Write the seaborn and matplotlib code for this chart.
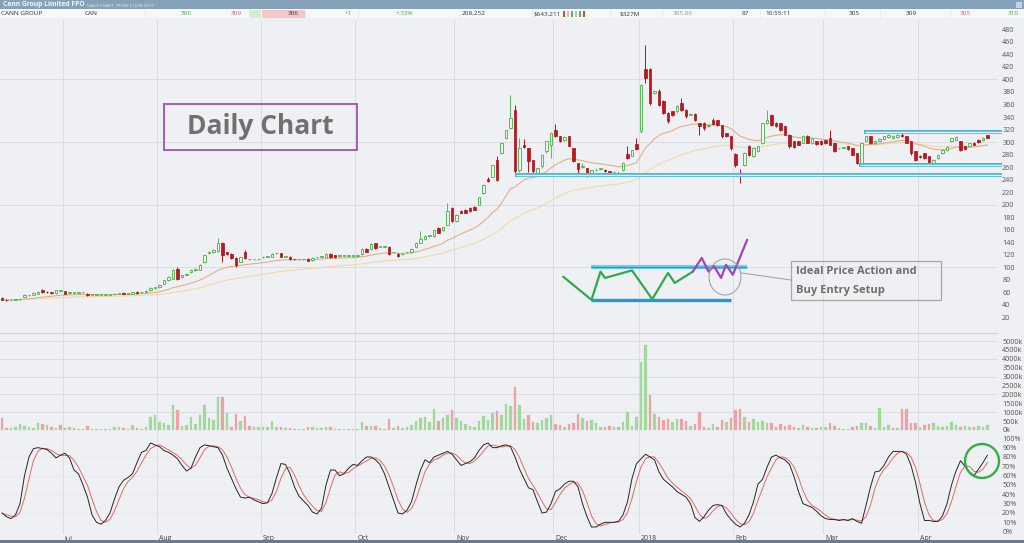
import numpy as np
import pandas as pd
import matplotlib
matplotlib.use("Agg")
import matplotlib.pyplot as plt
from matplotlib.patches import Rectangle, Ellipse
import seaborn as sns

# ---------------- data ----------------
OPEN = [51,48,47,48,49,53,55,56,58,63,
        61,60,59,62,61.5,59,59,59,60,58,
        56,56,56,56,56,57,58,59,58,58,
        61,60,61,63,67,68,74,79,82,97,
        84,88,92,95,96,108,122,124,126,139,
        124,121,115,109,125,113,113,113,116,117,
        117,122,122,117,117,113,112.5,113,114,111,
        116,117,117,121,119,118,118,118,118,118,
        121,129,129,138,133,133,133,124,121,121,
        124,124,132,139,145,150,150,163,159,168,
        195,174,190,192,195,197,200,218,241,245,
        271,282,306,322,351,255,295,290,271,250,
        261,285,295,319,309,303,309,290,266,260,
        258,249,255,257,256,253,252,251,255,281,
        278,297,317,416,416,378,382,366,347,349,
        349,363,352,344,345,330,331,325,336,335,
        327,314,309,281,251,263,293,277,285,298,
        330,343,331,330,325,312,301,301,299,310,
        298,301,302,303,306,298,290,291,293,290,
        282,266,301,309,298,302,305,308,306,308,
        312,309,301,285,278,282,277,266,274,282,
        287,301,304,301,293,293,299,304,303,311]
CLOSE = [48,47,48,49,50,56,56,59,61,60,
         60,59.5,63,62,58,59.5,59,59,60,55,
         56,56,56,56,56,58,58,57.5,58,60.5,
         59,60.5,62,67,68,72,79,84,96,82,
         87,89.5,96,97,104,119,124,127,139,120,
         121,115,103,116,115,113,113,113,117,117,
         121,122,117,117,113,112.5,112.5,113,110.5,115,
         116,117,121,116,116,118,118,118,118,118,
         129,125,137,130,133,133,121,124,118,121,
         124,129,139,145,150,150,160,155,164,190,
         174,184,187,187,190,192,212,231,238,263,
         240,298,319,338,253,290,292,269,253,258,
         280,301,314,310,301,308,294,269,257,261,
         249,255,256,257,253,252,252,250,266,274,
         287,289,391,402,362,381,359,347,333,343,
         358,351,341,345,335,325,322,328,329,327,
         309,310,290,263,250,282,280,290,293,330,
         335,327,325,320,312,293,292,296,310,299,
         306,297,297,298,296,285,290,291,289,280,
         267,298,309,298,301,305,309,312,310,312,
         309,299,282,272,276,274,264,272,280,288,
         292,306,308,288,289,298,296,300,307,307]
HIGH = [53,49,49,50,51,57,57,60,62,65,
        62,61,64,63,62,60,60,60,61,59,
        57,57,57,57,57,59,59,60,59,61,
        62,61,63,68,69,73,80,86,98,100,
        88,91,97,99,105,120,126,129,147,140,
        125,122,116,117,127,114,114,114,118,118,
        122,123,123,118,118,114,113,114,115,116,
        117,118,122,122,120,119,119,119,119,119,
        130,130,138,139,134,134,134,125,122,122,
        125,130,140,158,151,151,161,164,165,203,
        196,185,191,193,196,198,213,233,245,264,
        277,299,320,375,360,306,305,291,272,259,
        281,302,316,329,310,309,310,291,267,266,
        259,256,258,259,257,254,253,252,268,293,
        288,306,393,455,418,383,384,367,348,350,
        359,370,353,347,346,331,332,329,338,336,
        328,315,310,282,257,284,295,291,294,331,
        351,345,332,331,326,313,302,302,311,311,
        307,302,303,304,319,299,291,292,294,291,
        283,299,310,310,302,306,310,313,311,313,
        317,310,302,286,279,283,278,273,281,289,
        293,307,309,302,294,299,300,305,308,312]
LOW = [47,46,46,47,48,52,54,55,57,59,
       59,58,58,61,57,58,58,58,59,54,
       55,55,55,55,55,56,57,57,57,57,
       58,59,60,62,66,67,73,78,81,80,
       83,87,91,94,95,107,121,123,125,108,
       120,114,101,108,114,112,112,112,115,116,
       116,121,116,116,112,112,112,112,110,110,
       115,116,116,115,115,117,117,117,117,117,
       120,124,128,129,132,132,120,123,117,120,
       123,123,131,138,144,149,149,154,158,167,
       172,173,186,186,189,191,199,217,236,244,
       238,281,305,321,250,252,290,252,250,248,
       259,283,275,308,300,302,293,268,250,258,
       245,248,254,255,252,251,251,249,254,273,
       277,288,315,395,360,376,357,345,331,341,
       347,350,339,343,333,311,320,324,328,325,
       307,308,288,260,234,261,278,276,284,297,
       329,325,324,318,311,291,291,295,298,298,
       297,296,296,297,295,284,289,290,288,279,
       265,265,300,297,297,301,304,307,305,307,
       308,298,280,270,275,273,262,265,273,281,
       286,300,303,286,288,292,295,299,302,306]
VOLUME_K = [655,95,95,185,335,225,185,95,410,335,
            280,185,95,280,95,185,95,55,55,225,
            40,40,40,40,40,150,150,95,55,280,
            95,55,150,750,840,470,410,280,1405,1120,
            225,280,710,335,840,1405,655,560,1830,1830,
            935,185,900,525,785,225,150,150,150,150,
            525,185,150,95,95,55,40,40,150,150,
            95,95,150,185,55,55,55,55,55,55,
            470,225,225,225,95,55,600,95,225,95,
            150,280,525,655,750,470,1160,525,655,840,
            1120,655,525,335,225,185,525,785,560,970,
            1085,840,1460,1345,2430,1405,600,840,470,410,
            560,655,840,335,280,150,335,375,900,655,
            525,560,375,185,185,225,150,150,470,1030,
            225,710,3835,4770,1965,900,710,560,600,470,
            600,600,525,225,335,1030,185,95,335,150,
            560,470,655,1120,1160,710,470,600,470,525,
            375,375,185,335,225,280,185,95,280,150,
            95,95,150,185,410,225,95,55,55,150,
            225,375,410,225,95,1215,150,280,95,95,
            1160,1160,375,375,150,280,335,410,225,150,
            225,470,280,185,225,150,185,225,150,280]
STOCH_K = [20,16,14,18,30,60,80,89,90,89,
           88,84,79,82,84,79,66,62,50,37,
           18,10,8,12,20,35,48,55,58,62,
           74,85,87,95,93,91,87,85,82,78,
           71,65,68,80,90,93,92,91,90,82,
           68,57,46,37,36,37,34,32,30,31,
           41,58,73,72,62,48,38,33,28,21,
           19,25,50,66,66,60,62,68,72,71,
           76,80,80,77,72,62,48,34,20,19,
           23,32,50,66,77,74,80,82,84,86,
           83,77,71,73,75,79,87,93,95,90,
           90,92,93,91,80,67,57,47,45,32,
           20,21,30,43,46,51,54,54,48,30,
           16,5,5,8,10,10,10,11,18,32,
           57,73,78,83,80,77,64,56,52,48,
           43,40,37,30,15,11,16,23,28,29,
           28,19,13,8,5,9,18,32,51,56,
           69,80,82,79,77,72,59,43,30,28,
           26,22,17,14,13,13,12,13,12,14,
           11,9,28,48,64,65,71,80,86,86,
           86,83,71,53,30,12,12,11,11,17,
           30,50,65,76,70,64,60,67,74,82]
START_DATE = "2017-06-13"
HOLIDAYS = ["2017-12-25", "2017-12-26", "2018-01-01", "2018-01-26",
            "2018-03-30", "2018-04-02", "2018-04-25"]
PRICE_TICKS = list(range(20, 481, 20))
VOL_TICKS = list(range(0, 5001, 500))
STOCH_TICKS = list(range(0, 101, 10))
# support / resistance lines: level, first day index
SR_LEVELS = [248, 316, 263]
SR_START = [114, 191.5, 190.5]
# idealised price-action sketch (day index, price)
SKETCH_GREEN_X = [124.7, 131, 133, 134, 140, 144.5, 148, 149.5, 153.5]
SKETCH_GREEN_Y = [85, 48, 93, 83, 95, 49, 91, 75, 93]
SKETCH_PURPLE_X = [153.5, 155.5, 157, 158.2, 159.8, 160.9, 162.4, 165.6]
SKETCH_PURPLE_Y = [93, 115, 93, 102, 83, 104, 88, 144]
SKETCH_TOP = (100, 131, 165.5)
SKETCH_BOTTOM = (48, 131, 162)

# ---------------- setup ----------------
sns.set_theme(style="white")
plt.rcParams["font.family"] = ["Open Sans", "DejaVu Sans"]

W, H = 1024, 543
BG = "#eef0f3"
GRID = "#d8dadf"
fig = plt.figure(figsize=(W / 100, H / 100), dpi=100)
fig.patch.set_facecolor(BG)

n = len(CLOSE)
idx = np.arange(n)
o = np.array(OPEN, float); c = np.array(CLOSE, float)
hi = np.array(HIGH, float); lo = np.array(LOW, float)
vol = np.array(VOLUME_K, float)
k = pd.Series(STOCH_K, dtype=float)
d = k.rolling(3, min_periods=1).mean()
ema20 = pd.Series(c).ewm(span=20, adjust=False).mean()
ema50 = pd.Series(c).ewm(span=50, adjust=False).mean()

dates = pd.bdate_range(START_DATE, periods=n + 20, freq="C", holidays=HOLIDAYS)[:n]
month_idx = [i for i in range(1, n) if dates[i].month != dates[i - 1].month]
month_lbl = [("2018" if dates[i].month == 1 else dates[i].strftime("%b")) for i in month_idx]

PX_DAY = 4.5
X0 = -2 / PX_DAY
X1 = (998 - 2) / PX_DAY


def rect(top, bottom, left=0, right=998):
    return [left / W, 1 - bottom / H, (right - left) / W, (bottom - top) / H]


ax_p = fig.add_axes(rect(20, 333))
ax_v = fig.add_axes(rect(333, 433), sharex=ax_p)
ax_s = fig.add_axes(rect(433, 534), sharex=ax_p)

for ax in (ax_p, ax_v, ax_s):
    ax.set_facecolor(BG)
    for sp in ax.spines.values():
        sp.set_visible(False)
    ax.yaxis.tick_right()
    ax.tick_params(axis="y", length=0, pad=3, labelsize=5.2, labelcolor="#555555")
    ax.tick_params(axis="x", length=0)
    for m in month_idx:
        ax.axvline(m - 0.5, color=GRID, lw=0.6, zorder=0)
ax_p.set_xlim(X0, X1)

# ---------------- price panel ----------------
ax_p.set_ylim(-5, 495)
ax_p.set_yticks(PRICE_TICKS)
for g in (100, 200, 300, 400):
    ax_p.axhline(g, color=GRID, lw=0.6, zorder=0)
ax_p.axhline(-5, color="#d0d3d8", lw=0.8)

sns.lineplot(x=idx, y=ema50.values, ax=ax_p, color="#f3d8ad", lw=0.8, zorder=2)
sns.lineplot(x=idx, y=ema20.values, ax=ax_p, color="#e3b088", lw=0.8, zorder=2)

up = c >= o
wick_col = np.where(up, "#5cb85c", "#b0141c")
ax_p.vlines(idx, lo, hi, colors=wick_col, lw=0.7, zorder=3)
body_h = np.maximum(np.abs(c - o), 0.9)
body_b = np.minimum(o, c)
ax_p.bar(idx[up], body_h[up], bottom=body_b[up], width=0.62,
         color="#edf7ea", edgecolor="#5cb85c", linewidth=0.7, zorder=4)
ax_p.bar(idx[~up], body_h[~up], bottom=body_b[~up], width=0.62,
         color="#c0171f", edgecolor="#a31219", linewidth=0.5, zorder=4)

for lvl, x0 in zip(SR_LEVELS, SR_START):
    ax_p.plot([x0, X1 + 1], [lvl, lvl], color="#4ab4dc", lw=2.9,
              solid_capstyle="butt", zorder=6, clip_on=False)
    ax_p.plot([x0 + 0.2, X1 + 1], [lvl, lvl], color="#e4f5fb", lw=1.0,
              solid_capstyle="butt", zorder=7, clip_on=False)

lvl, a, b = SKETCH_TOP
ax_p.plot([a, b], [lvl, lvl], color="#74d0f2", lw=3.0, solid_capstyle="butt", zorder=6)
ax_p.plot([a, b], [lvl, lvl], color="#2a95d2", lw=1.0, solid_capstyle="butt", zorder=7)
lvl, a, b = SKETCH_BOTTOM
ax_p.plot([a, b], [lvl, lvl], color="#1f9ad6", lw=2.4, solid_capstyle="butt", zorder=6)
ax_p.plot(SKETCH_GREEN_X, SKETCH_GREEN_Y, color="#33a94c", lw=1.6, zorder=8)
ax_p.plot(SKETCH_PURPLE_X, SKETCH_PURPLE_Y, color="#a545b5", lw=1.6, zorder=8)

# ---------------- volume panel ----------------
ax_v.set_ylim(-170, 5450)
ax_v.set_yticks(VOL_TICKS)
ax_v.set_yticklabels([f"{t}k" for t in VOL_TICKS])
for g in range(1000, 5001, 1000):
    ax_v.axhline(g, color=GRID, lw=0.6, zorder=0)
prev = np.concatenate([[o[0]], c[:-1]])
vup = c >= prev
ax_v.bar(idx[vup], vol[vup], width=0.6, color="#a3d89d", edgecolor="#a3d89d",
         linewidth=0.2, zorder=3)
ax_v.bar(idx[~vup], vol[~vup], width=0.6, color="#eca3a3", edgecolor="#eca3a3",
         linewidth=0.2, zorder=3)
ax_v.axhline(5450, color="#d0d3d8", lw=0.8)
ax_v.axhline(-170, color="#d0d3d8", lw=0.8)

# ---------------- stochastic panel ----------------
ax_s.set_ylim(-2.5, 105.7)
ax_s.set_yticks(STOCH_TICKS)
ax_s.set_yticklabels([f"{t}%" for t in STOCH_TICKS])
for g in (20, 40, 60, 80):
    ax_s.axhline(g, color="#e3e5e9", lw=0.5, zorder=0)
sns.lineplot(x=idx, y=d.values, ax=ax_s, color="#e06a6a", lw=0.7, zorder=3)
sns.lineplot(x=idx, y=k.values, ax=ax_s, color="#262626", lw=0.7, zorder=4)

ax_s.set_xticks(month_idx)
ax_s.set_xticklabels(month_lbl, fontsize=5, color="#444444")
for lab in ax_s.get_xticklabels():
    lab.set_horizontalalignment("left")
ax_s.tick_params(axis="x", pad=0.6)
ax_p.tick_params(axis="x", labelbottom=False)
ax_v.tick_params(axis="x", labelbottom=False)
for ax in (ax_p, ax_v, ax_s):
    ax.set_xlabel("")
    ax.set_ylabel("")

# ---------------- overlay (header & annotations, pixel coords) ----------------
ov = fig.add_axes([0, 0, 1, 1], zorder=20)
ov.set_xlim(0, W)
ov.set_ylim(H, 0)
ov.axis("off")
ov.patch.set_alpha(0)

ov.add_patch(Rectangle((0, 0), W, 9, color="#86a2b9", lw=0))
ov.text(3, 4.7, "Cann Group Limited FPO", fontsize=4.9, weight="bold",
        color="#f4f7fa", va="center", ha="left")
ov.text(87, 5.0, "DAILY CHART, FROM 13 JUN 2017", fontsize=3.2,
        color="#e3eaf1", va="center", ha="left")
ov.add_patch(Rectangle((1016, 1.5), 6, 6, color="#c8d2de", lw=0))
ov.add_patch(Rectangle((0, 9), W, 9, color="#f7f7f7", lw=0))
ov.add_patch(Rectangle((249, 9.5), 12, 8, color="#d3edd0", lw=0))
ov.add_patch(Rectangle((262, 9.5), 43, 8, color="#f2c8cb", lw=0))
for xs in (145, 305, 358, 460, 532, 610, 662, 760, 825, 880, 950):
    ov.plot([xs, xs], [9.5, 17.5], color="#e6e6e6", lw=0.5)
for j, col in enumerate(["#d34a4a", "#f0b0b0", "#59b359", "#c0c0c0", "#59b359", "#d34a4a"]):
    ov.add_patch(Rectangle((563 + j * 4, 10.5), 2, 6, color=col, lw=0))
row = [(1, "CANN GROUP", "#333333"), (85, "CAN", "#333333"), (181, "306", "#4aa84a"),
       (231, "309", "#b86078"), (288, "306", "#333333"), (345, "+1", "#4aa84a"),
       (396, "+.33%", "#4aa84a"), (462, "208,252", "#333333"), (534, "$643,211", "#333333"),
       (620, "$327M", "#333333"), (673, "305.86", "#9a9a9a"), (742, "87", "#333333"),
       (765, "10:55:11", "#333333"), (849, "305", "#333333"), (906, "309", "#333333"),
       (960, "305", "#cc5c7e"), (1008, "310", "#4aa84a")]
for xx, tt, cc in row:
    ov.text(xx, 13.6, tt, fontsize=4.6, color=cc, va="center", ha="left")

ov.add_patch(Rectangle((0, 540), W, 3, color="#6b7b8b", lw=0))

# "Daily Chart" label box
ov.add_patch(Rectangle((163.5, 103.5), 193, 46.5, fill=False, ec="#a55db5", lw=1.4))
ov.text(260, 127, "Daily Chart", fontsize=19, weight="bold", color="#707070",
        ha="center", va="center")

# ideal setup annotation
ov.add_patch(Ellipse((725, 277), 32, 36, fill=False, ec="#9c9c9c", lw=0.7))
ov.plot([741.5, 791], [273, 280], color="#9c9c9c", lw=0.7)
ov.add_patch(Rectangle((791, 261), 150, 39, fill=False, ec="#a8a8a8", lw=0.9))
ov.text(796, 271, "Ideal Price Action and", fontsize=8, weight="bold",
        color="#6e6e6e", ha="left", va="center")
ov.text(796, 290.5, "Buy Entry Setup", fontsize=8, weight="bold",
        color="#6e6e6e", ha="left", va="center")

# green circle on stochastic
ov.add_patch(Ellipse((982, 461), 34, 34, fill=False, ec="#35ad45", lw=1.7))

fig.savefig("out.png", dpi=100, facecolor=BG)
